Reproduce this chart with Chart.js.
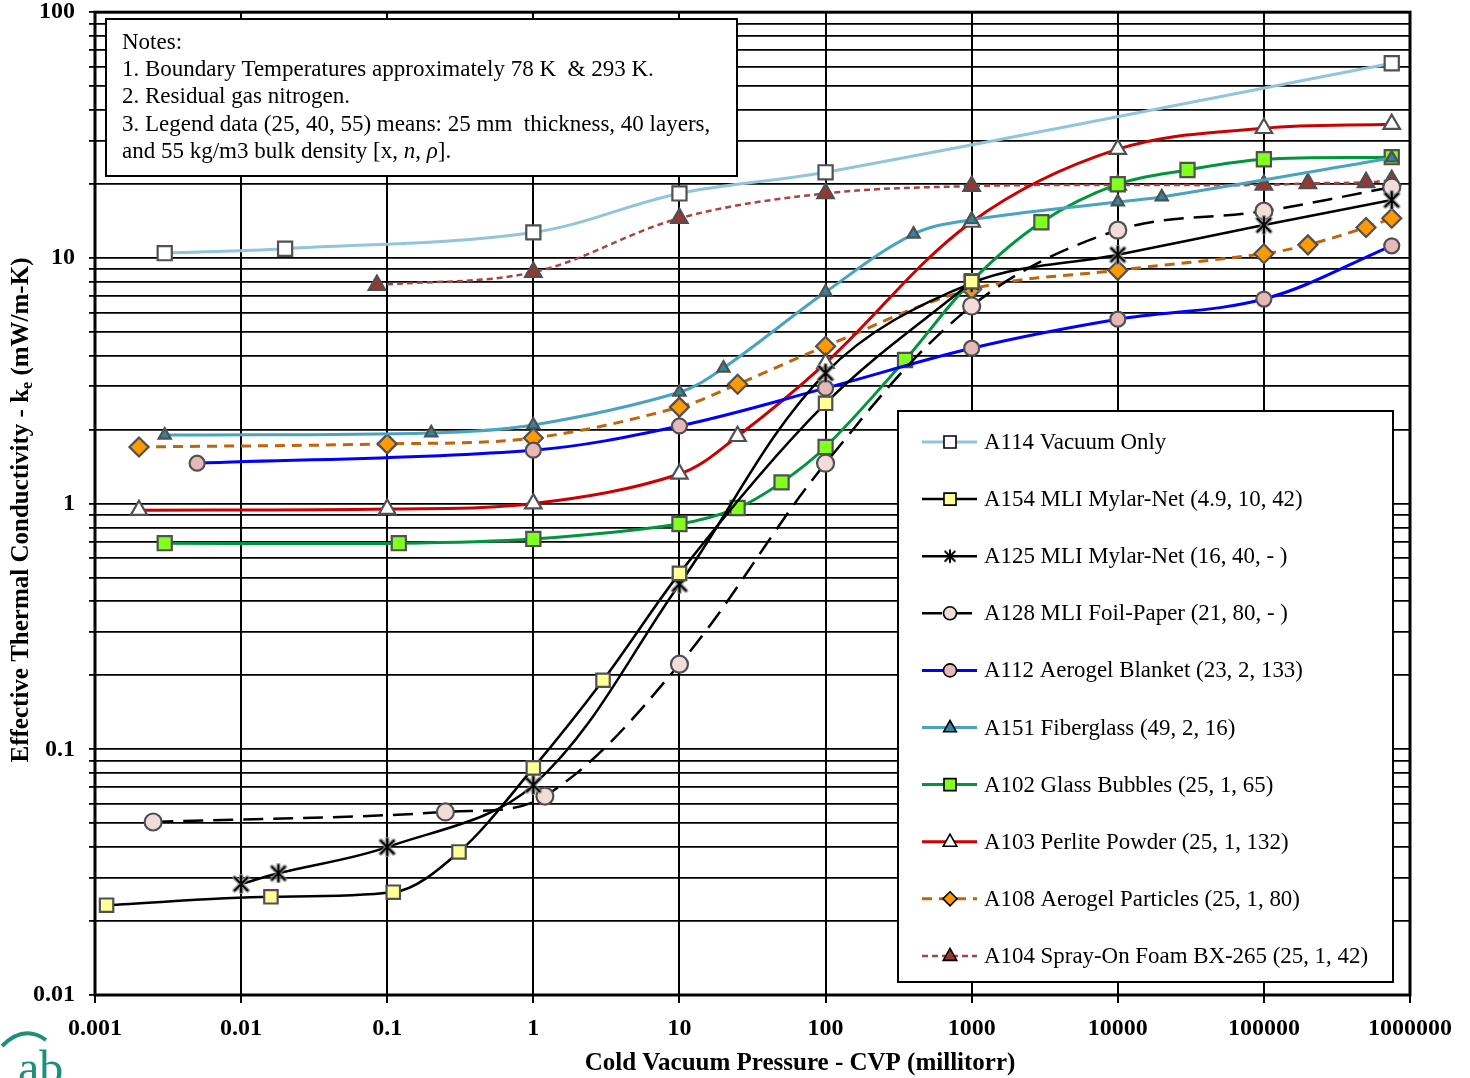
<!DOCTYPE html>
<html>
<head>
<meta charset="utf-8">
<script src="https://cdn.jsdelivr.net/npm/chart.js@4.4.1/dist/chart.umd.min.js"></script>
<style>
  html, body { margin: 0; padding: 0; background: #fff; }
</style>
</head>
<body>
<canvas id="kchart" width="1470" height="1078"></canvas>
<script>
// cold vacuum pressure (millitorr) and effective k (mW/m-K)
var a114P = [0.003, 0.02, 1, 10, 100, 750000];
var a114K = [10.45, 10.9, 12.7, 18.3, 22.3, 62];

var a154P = [0.0012, 0.016, 0.11, 0.31, 1, 3, 10, 100, 1000];
var a154K = [0.0232, 0.0251, 0.0262, 0.0382, 0.084, 0.191, 0.52, 2.56, 8.0];

var a125P = [0.01, 0.018, 0.1, 1, 10, 100, 1000, 10000, 100000, 750000];
var a125K = [0.0283, 0.0313, 0.040, 0.0715, 0.47, 3.4, 7.9, 10.3, 13.6, 17.2];

var a128P = [0.0025, 0.25, 1.2, 10, 100, 1000, 10000, 100000, 750000];
var a128K = [0.0506, 0.0556, 0.0645, 0.222, 1.46, 6.37, 12.97, 15.5, 19.4];

var a112P = [0.005, 1, 10, 100, 1000, 10000, 100000, 750000];
var a112K = [1.46, 1.65, 2.07, 2.95, 4.29, 5.63, 6.8, 11.2];

var a151P = [0.003, 0.2, 1, 10, 20, 100, 400, 1000, 10000, 20000, 750000];
var a151K = [1.90, 1.94, 2.09, 2.84, 3.56, 7.26, 12.5, 14.3, 16.9, 17.7, 25.5];

var a102P = [0.003, 0.12, 1, 10, 25, 50, 100, 350, 1000, 3000, 10000, 30000, 100000, 750000];
var a102K = [0.69, 0.69, 0.718, 0.826, 0.96, 1.22, 1.70, 3.84, 8.04, 13.97, 19.95, 22.8, 25.2, 25.7];

var a103P = [0.002, 0.1, 1, 10, 25, 100, 1000, 10000, 100000, 750000];
var a103K = [0.94, 0.95, 1.0, 1.32, 1.88, 3.73, 14.0, 27.7, 33.7, 35.0];

var a108P = [0.002, 0.1, 1, 10, 25, 100, 1000, 10000, 100000, 200000, 500000, 750000];
var a108K = [1.70, 1.75, 1.85, 2.47, 3.06, 4.37, 7.46, 8.9, 10.4, 11.3, 13.3, 14.5];

var a104P = [0.085, 1, 10, 100, 1000, 10000, 100000, 200000, 500000, 750000];
var a104K = [7.75, 8.75, 14.5, 18.3, 19.6, 19.8, 19.8, 20.1, 20.3, 20.7];

var seriesNames = [
  'A114 Vacuum Only',
  'A154 MLI Mylar-Net (4.9, 10, 42)',
  'A125 MLI Mylar-Net (16, 40, - )',
  'A128 MLI Foil-Paper (21, 80, - )',
  'A112 Aerogel Blanket (23, 2, 133)',
  'A151 Fiberglass (49, 2, 16)',
  'A102 Glass Bubbles (25, 1, 65)',
  'A103 Perlite Powder (25, 1, 132)',
  'A108 Aerogel Particles (25, 1, 80)',
  'A104 Spray-On Foam BX-265 (25, 1, 42)'
];

var xDecades = [0.001, 0.01, 0.1, 1, 10, 100, 1000, 10000, 100000, 1000000];
var xTickLabels = ['0.001', '0.01', '0.1', '1', '10', '100', '1000', '10000', '100000', '1000000'];
var yDecades = [0.01, 0.1, 1, 10, 100];
var yTickLabels = ['0.01', '0.1', '1', '10', '100'];

var xTitle = 'Cold Vacuum Pressure - CVP (millitorr)';
var notes = [
  'Notes:',
  '1. Boundary Temperatures approximately 78 K  & 293 K.',
  '2. Residual gas nitrogen.',
  '3. Legend data (25, 40, 55) means: 25 mm  thickness, 40 layers,'
];

var serif = '"Liberation Serif", "Times New Roman", serif';

function pts(xs, ys) {
  return xs.map(function (x, i) { return { x: x, y: ys[i] }; });
}

// star marker (X with a vertical stroke)
function makeStar(size, halo) {
  var c = document.createElement('canvas');
  c.width = size; c.height = size;
  var g = c.getContext('2d');
  var m = size / 2, r = size / 2 - 2;
  function shape(w, col) {
    g.strokeStyle = col; g.lineWidth = w; g.lineCap = 'round';
    g.beginPath();
    g.moveTo(m - r * 0.8, m - r * 0.8); g.lineTo(m + r * 0.8, m + r * 0.8);
    g.moveTo(m + r * 0.8, m - r * 0.8); g.lineTo(m - r * 0.8, m + r * 0.8);
    g.moveTo(m, m - r); g.lineTo(m, m + r);
    g.stroke();
  }
  if (halo) shape(4.5, 'rgba(140,140,140,0.85)');
  shape(2, '#000');
  return c;
}
var starBig = makeStar(20, true);
var starSmall = makeStar(16, false);

function series(i, xs, ys, o) {
  return {
    label: seriesNames[i],
    data: pts(xs, ys),
    borderColor: o.color,
    borderWidth: o.width || 3,
    borderDash: o.dash || [],
    pointStyle: o.marker,
    pointRadius: o.r,
    pointBackgroundColor: o.fill,
    pointBorderColor: '#505050',
    pointBorderWidth: 2.2,
    tension: 0.35,
    fill: false,
    legendMarker: o.legendMarker || o.marker,
    legendR: o.lr
  };
}

var datasets = [
  series(0, a114P, a114K, { color: '#92c5dc', marker: 'rect', r: 10, fill: '#ffffff', lr: 8.5 }),
  series(1, a154P, a154K, { color: '#000000', width: 2.5, marker: 'rect', r: 9.5, fill: '#ffff99', lr: 8.5 }),
  series(2, a125P, a125K, { color: '#000000', width: 2.5, marker: starBig, legendMarker: starSmall, r: 9 }),
  series(3, a128P, a128K, { color: '#000000', width: 2.5, dash: [20, 10], marker: 'circle', r: 8.5, fill: '#f2dcdb', lr: 6.5 }),
  series(4, a112P, a112K, { color: '#0000ff', marker: 'circle', r: 7.5, fill: '#e6b9b8', lr: 6.5 }),
  series(5, a151P, a151K, { color: '#4aa3bf', marker: 'triangle', r: 7, fill: '#31859c', lr: 7 }),
  series(6, a102P, a102K, { color: '#00963c', marker: 'rect', r: 10, fill: '#80ff20', lr: 8.5 }),
  series(7, a103P, a103K, { color: '#cc0000', marker: 'triangle', r: 9.5, fill: '#ffffff', lr: 7.5 }),
  series(8, a108P, a108K, { color: '#c0650a', dash: [10, 7], marker: 'rectRot', r: 9.5, fill: '#ff9900', lr: 7 }),
  series(9, a104P, a104K, { color: '#a94442', width: 2.5, dash: [6, 4], marker: 'triangle', r: 9.5, fill: '#953735', lr: 7.5 })
];
// MLI Mylar-Net curve stays flat at low pressure in the original, no dip
datasets[1].cubicInterpolationMode = 'monotone';

function marker(ctx, style, r, x, y, fill) {
  if (typeof style === 'object') {
    ctx.drawImage(style, x - style.width / 2, y - style.height / 2);
    return;
  }
  ctx.beginPath();
  if (style === 'rect') {
    var s = r * Math.SQRT1_2;
    ctx.rect(x - s, y - s, 2 * s, 2 * s);
  } else if (style === 'rectRot') {
    ctx.moveTo(x, y - r); ctx.lineTo(x + r, y); ctx.lineTo(x, y + r); ctx.lineTo(x - r, y); ctx.closePath();
  } else if (style === 'triangle') {
    ctx.moveTo(x, y - r);
    ctx.lineTo(x + r * 0.9, y + r * 0.6);
    ctx.lineTo(x - r * 0.9, y + r * 0.6);
    ctx.closePath();
  } else {
    ctx.arc(x, y, r, 0, Math.PI * 2);
  }
  ctx.fillStyle = fill;
  ctx.fill();
  ctx.lineWidth = 1.6;
  ctx.strokeStyle = '#000';
  ctx.stroke();
}

var decor = {
  id: 'decor',
  beforeDatasetsDraw: function (chart) {
    var a = chart.chartArea, ctx = chart.ctx;
    ctx.save();
    ctx.strokeStyle = '#000';
    ctx.lineWidth = 3;
    ctx.strokeRect(a.left, a.top, a.right - a.left, a.bottom - a.top);
    ctx.restore();
  },
  afterDatasetsDraw: function (chart) {
    var ctx = chart.ctx;
    ctx.save();
    // notes box
    ctx.fillStyle = '#fff';
    ctx.fillRect(106, 19, 631, 157);
    ctx.strokeStyle = '#000';
    ctx.lineWidth = 2;
    ctx.strokeRect(106, 19, 631, 157);
    ctx.fillStyle = '#000';
    ctx.textBaseline = 'middle';
    var f = '23px ' + serif, fi = 'italic 23px ' + serif;
    ctx.font = f;
    notes.forEach(function (line, i) { ctx.fillText(line, 122, 43 + i * 27.2); });
    var parts = [['and 55 kg/m3 bulk density [x, ', f], ['n', fi], [', ', f], ['\u03c1', fi], ['].', f]];
    var x = 122;
    parts.forEach(function (p) {
      ctx.font = p[1];
      ctx.fillText(p[0], x, 152);
      x += ctx.measureText(p[0]).width;
    });

    // legend box
    ctx.fillStyle = '#fff';
    ctx.fillRect(898, 411, 495, 571);
    ctx.strokeStyle = '#000';
    ctx.lineWidth = 2;
    ctx.strokeRect(898, 411, 495, 571);
    chart.data.datasets.forEach(function (ds, i) {
      var y = 442 + i * 57.1;
      ctx.save();
      ctx.strokeStyle = ds.borderColor;
      ctx.lineWidth = ds.borderWidth;
      ctx.setLineDash(ds.borderDash);
      ctx.beginPath();
      ctx.moveTo(922, y); ctx.lineTo(977, y);
      ctx.stroke();
      ctx.restore();
      marker(ctx, ds.legendMarker, ds.legendR, 950, y, ds.pointBackgroundColor);
      ctx.fillStyle = '#000';
      ctx.font = '22.9px ' + serif;
      ctx.textBaseline = 'middle';
      ctx.fillText(ds.label, 984, y + 1);
    });
    ctx.restore();
  },
  afterDraw: function (chart) {
    var ctx = chart.ctx;
    ctx.save();
    // x axis title (sits right of the plot centre in the original)
    ctx.fillStyle = '#000';
    ctx.font = 'bold 25px ' + serif;
    ctx.textAlign = 'center';
    ctx.textBaseline = 'middle';
    ctx.fillText(xTitle, 800, 1064);
    ctx.restore();

    ctx.save();
    // y axis title with subscript
    ctx.translate(22, 510);
    ctx.rotate(-Math.PI / 2);
    ctx.fillStyle = '#000';
    ctx.textBaseline = 'middle';
    var big = 'bold 25px ' + serif, small = 'bold 16px ' + serif;
    var t1 = 'Effective Thermal Conductivity - k', t2 = 'e', t3 = ' (mW/m-K)';
    ctx.font = big; var w1 = ctx.measureText(t1).width, w3 = ctx.measureText(t3).width;
    ctx.font = small; var w2 = ctx.measureText(t2).width;
    var x0 = -(w1 + w2 + w3) / 2;
    ctx.font = big; ctx.fillText(t1, x0, 0);
    ctx.font = small; ctx.fillText(t2, x0 + w1, 6);
    ctx.font = big; ctx.fillText(t3, x0 + w1 + w2, 0);
    ctx.restore();

    // partial logo in the lower-left corner
    ctx.save();
    ctx.strokeStyle = '#1f8f78';
    ctx.lineWidth = 4;
    ctx.beginPath();
    ctx.moveTo(2, 1046);
    ctx.quadraticCurveTo(24, 1024, 46, 1040);
    ctx.stroke();
    ctx.fillStyle = '#1f8f78';
    ctx.font = '48px ' + serif;
    ctx.fillText('ab', 18, 1084);
    ctx.restore();
  }
};

new Chart(document.getElementById('kchart'), {
  type: 'line',
  data: { datasets: datasets },
  options: {
    responsive: false,
    animation: false,
    layout: { padding: { left: 0, top: 12, right: 60, bottom: 0 } },
    plugins: { legend: { display: false }, tooltip: { enabled: false } },
    scales: {
      x: {
        type: 'logarithmic',
        min: 0.001,
        max: 1000000,
        afterBuildTicks: function (s) { s.ticks = xDecades.map(function (v) { return { value: v }; }); },
        afterFit: function (s) { s.height = 83; s.paddingLeft = 0; s.paddingRight = 0; },
        border: { display: false },
        grid: { color: '#000', lineWidth: 2, tickLength: 8, tickColor: '#000' },
        ticks: {
          autoSkip: false,
          maxRotation: 0,
          padding: 11,
          color: '#000',
          font: { family: serif, size: 24, weight: 'bold' },
          callback: function (v) { var j = xDecades.indexOf(v); return j >= 0 ? xTickLabels[j] : ''; }
        }
      },
      y: {
        type: 'logarithmic',
        min: 0.01,
        max: 100,
        afterBuildTicks: function (s) {
          var t = [];
          yDecades.forEach(function (d, i) {
            if (i === yDecades.length - 1) { t.push({ value: d }); return; }
            for (var m = 1; m < 10; m++) t.push({ value: m === 1 ? d : m * d });
          });
          s.ticks = t;
        },
        afterFit: function (s) { s.width = 95; s.paddingTop = 0; s.paddingBottom = 0; },
        border: { display: false },
        grid: { color: '#000', lineWidth: 1.8, tickLength: 6, tickColor: '#000' },
        ticks: {
          autoSkip: false,
          padding: 14,
          color: '#000',
          font: { family: serif, size: 24, weight: 'bold' },
          callback: function (v) { var j = yDecades.indexOf(v); return j >= 0 ? yTickLabels[j] : ''; }
        }
      }
    }
  },
  plugins: [decor]
});
</script>
</body>
</html>
